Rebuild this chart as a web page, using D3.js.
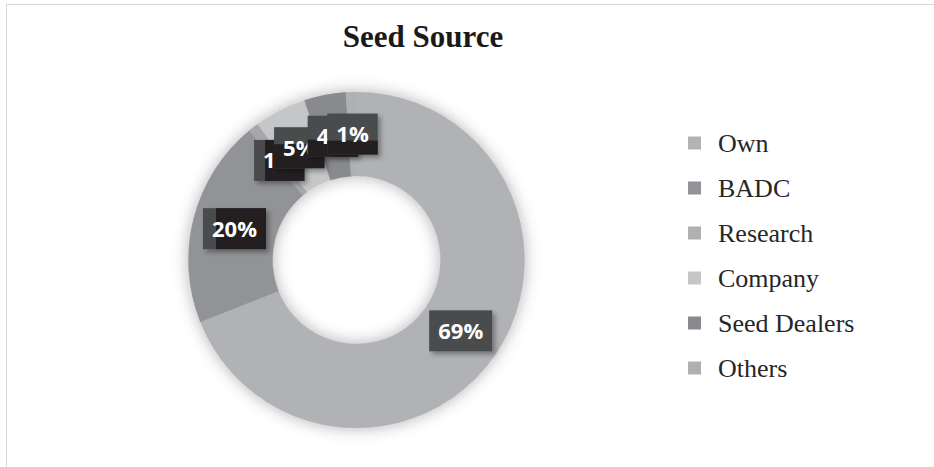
<!DOCTYPE html>
<html>
<head>
<meta charset="utf-8">
<script src="https://cdn.jsdelivr.net/npm/d3@7"></script>
<style>
  body { margin: 0; background: #fff; }
  svg { display: block; }
</style>
</head>
<body>
<script>
// seed source shares
var categories = ["Own", "BADC", "Research", "Company", "Seed Dealers", "Others"];
var shares = [69, 20, 1, 5, 4, 1];
var title = "Seed Source";

// greys of the slices (grayscale print)
var sliceColors = ["#b1b2b5", "#929397", "#a6a7aa", "#c5c6c8", "#898a8e", "#afb0b3"];
var legendColors = ["#b3b3b6", "#939397", "#b0b0b3", "#c6c6c8", "#8a8a8e", "#b0b0b3"];

// black shading on the label boxes [dx, dy], null = none
var shade = [null, [13, 0], [11, 0], [0, 17], [0, 24], [0, 27]];

var fullwidth = 934;
var fullheight = 467;
var cx = 356.5, cy = 260;
var outerR = 168, innerR = 84;

var svg = d3.select("body")
  .append("svg")
   .attr("width", fullwidth)
   .attr("height", fullheight);

var defs = svg.append("defs");

var ringShadow = defs.append("filter")
  .attr("id", "ringShadow")
  .attr("x", "-20%").attr("y", "-20%")
  .attr("width", "140%").attr("height", "140%");
ringShadow.append("feDropShadow")
  .attr("dx", 0).attr("dy", 0)
  .attr("stdDeviation", 8)
  .attr("flood-color", "#000")
  .attr("flood-opacity", 0.3);

var boxShadow = defs.append("filter")
  .attr("id", "boxShadow")
  .attr("x", "-30%").attr("y", "-30%")
  .attr("width", "160%").attr("height", "160%");
boxShadow.append("feDropShadow")
  .attr("dx", 3).attr("dy", 3)
  .attr("stdDeviation", 2.5)
  .attr("flood-color", "#000")
  .attr("flood-opacity", 0.35);

// chart area border
svg.append("rect")
  .attr("x", 6.5)
  .attr("y", 4.5)
  .attr("width", fullwidth + 20)
  .attr("height", fullheight + 20)
  .style("fill", "none")
  .style("stroke", "#d9d9d9")
  .style("stroke-width", 1);

// title
svg.append("text")
  .attr("x", 423)
  .attr("y", 47)
  .style("text-anchor", "middle")
  .style("font-family", "'Liberation Serif', 'Times New Roman', serif")
  .style("font-weight", "bold")
  .style("font-size", "31px")
  .style("fill", "#1a1a1a")
  .text(title);

var pie = d3.pie()
  .sort(null)
  .value(function(d) { return d; });

var arc = d3.arc()
  .innerRadius(innerR)
  .outerRadius(outerR);

var arcs = pie(shares);

var g = svg.append("g")
  .attr("transform", "translate(" + cx + "," + cy + ")");

g.append("g")
  .attr("filter", "url(#ringShadow)")
  .selectAll("path")
  .data(arcs)
  .enter()
  .append("path")
  .attr("d", arc)
  .style("fill", function(d, i) { return sliceColors[i]; })
  .style("stroke", function(d, i) { return sliceColors[i]; })
  .style("stroke-width", 0.5);

// data labels, drawn in order so later boxes cover earlier ones
var labelH = 41;
arcs.forEach(function(d, i) {
  var c = arc.centroid(d);
  var lg = g.append("g").attr("transform", "translate(" + c[0] + "," + c[1] + ")");

  var box = lg.append("rect").style("fill", "#4a4b4d").attr("filter", "url(#boxShadow)");
  var dark = lg.append("rect").style("fill", "#231f20");

  var txt = lg.append("text")
    .attr("y", 0)
    .attr("dy", "0.36em")
    .style("text-anchor", "middle")
    .style("font-family", "'Open Sans', 'Noto Sans', sans-serif")
    .style("font-weight", "bold")
    .style("font-size", "22px")
    .style("fill", "#ffffff")
    .text(shares[i] + "%");

  var w = txt.node().getComputedTextLength() + 18;
  box.attr("x", -w / 2).attr("y", -labelH / 2)
     .attr("width", w).attr("height", labelH);

  if (shade[i]) {
    dark.attr("x", -w / 2 + shade[i][0])
        .attr("y", -labelH / 2 + shade[i][1])
        .attr("width", w - shade[i][0])
        .attr("height", labelH - shade[i][1]);
  } else {
    dark.remove();
  }
});

// legend
var legend = svg.selectAll(".legend")
  .data(categories)
  .enter().append("g")
  .attr("class", "legend")
  .attr("transform", function(d, i) { return "translate(688," + (143 + i * 45) + ")"; });

legend.append("rect")
  .attr("x", 0)
  .attr("y", -6.5)
  .attr("width", 13)
  .attr("height", 13)
  .style("fill", function(d, i) { return legendColors[i]; });

legend.append("text")
  .attr("x", 30)
  .attr("y", 0)
  .attr("dy", "0.35em")
  .style("font-family", "'Liberation Serif', 'Times New Roman', serif")
  .style("font-size", "26px")
  .style("fill", "#262626")
  .text(function(d) { return d; });
</script>
</body>
</html>
